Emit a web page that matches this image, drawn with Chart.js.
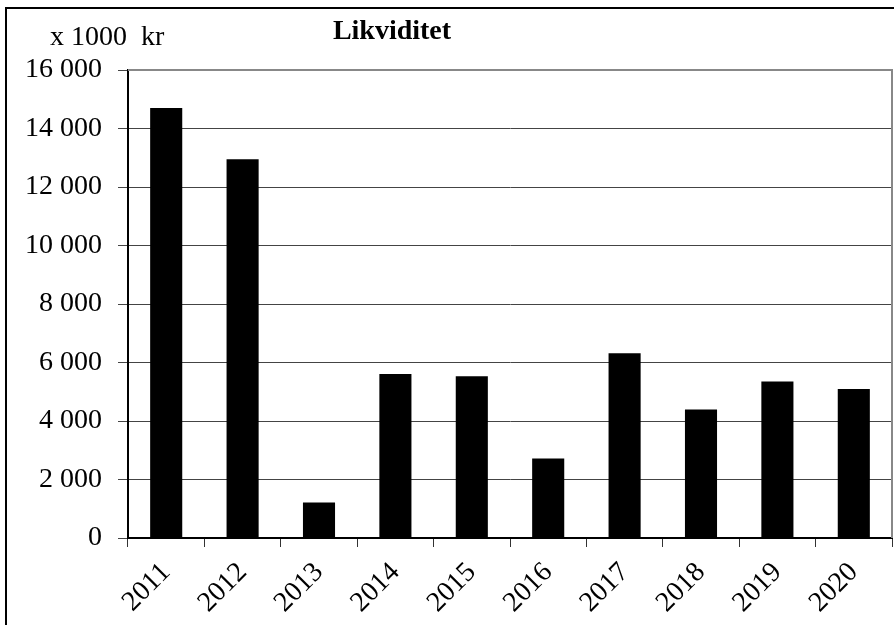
<!DOCTYPE html>
<html>
<head>
<meta charset="utf-8">
<script src="https://cdn.jsdelivr.net/npm/chart.js@4"></script>
<style>
  html, body { margin: 0; padding: 0; background: #fff; }
  #wrap { width: 894px; height: 625px; position: relative; }
</style>
</head>
<body>
<div id="wrap"><canvas id="chart-likviditet" width="894" height="625"></canvas></div>
<script>
const years = ["2011", "2012", "2013", "2014", "2015", "2016", "2017", "2018", "2019", "2020"];
const likviditet = [14700, 12950, 1210, 5610, 5530, 2720, 6320, 4390, 5350, 5090];
const yTicks = [0, 2000, 4000, 6000, 8000, 10000, 12000, 14000, 16000];

const serif = "'Liberation Serif', 'Times New Roman', serif";
const fmt = (v) => String(v).replace(/\B(?=(\d{3})+(?!\d))/g, " ");

// frame, plot border and the two text labels
const decor = {
  id: "decor",
  afterDraw(chart) {
    const { ctx, chartArea: a } = chart;
    ctx.save();
    ctx.strokeStyle = "#000";
    ctx.lineWidth = 2;
    ctx.beginPath();
    ctx.moveTo(6, 625);
    ctx.lineTo(6, 8);
    ctx.lineTo(894, 8);
    ctx.stroke();

    ctx.strokeStyle = "#888";
    ctx.lineWidth = 2;
    ctx.beginPath();
    ctx.moveTo(a.left, a.top);
    ctx.lineTo(a.right, a.top);
    ctx.lineTo(a.right, a.bottom);
    ctx.stroke();

    ctx.fillStyle = "#000";
    ctx.textBaseline = "alphabetic";
    ctx.font = `28px ${serif}`;
    ctx.textAlign = "left";
    ctx.fillText("x 1000  kr", 50, 45);
    ctx.font = `bold 28px ${serif}`;
    ctx.textAlign = "center";
    ctx.fillText("Likviditet", 392, 39);
    ctx.restore();
  },
};

new Chart(document.getElementById("chart-likviditet"), {
  type: "bar",
  data: {
    labels: years,
    datasets: [{
      label: "Likviditet",
      data: likviditet,
      backgroundColor: "#000",
      barPercentage: 0.42,
      categoryPercentage: 1,
    }],
  },
  options: {
    responsive: false,
    animation: false,
    layout: { padding: { left: 0, top: 70, right: 2, bottom: 0 } },
    plugins: { legend: { display: false }, tooltip: { enabled: false } },
    scales: {
      x: {
        grid: { drawOnChartArea: false, drawTicks: true, tickLength: 9, color: "#333", offset: true },
        border: { color: "#000", width: 2 },
        ticks: {
          color: "#000",
          font: { family: serif, size: 28 },
          minRotation: 45,
          maxRotation: 45,
          padding: 9,
        },
        afterFit: (s) => { s.height = 87; },
      },
      y: {
        min: 0,
        max: 16000,
        afterBuildTicks: (s) => { s.ticks = yTicks.map((v) => ({ value: v })); },
        grid: { color: "#444", lineWidth: 1, tickLength: 10 },
        border: { color: "#000", width: 2 },
        ticks: {
          color: "#000",
          font: { family: serif, size: 28 },
          padding: 16,
          callback: (v) => fmt(v),
        },
        afterFit: (s) => { s.width = 128; },
      },
    },
  },
  plugins: [decor],
});
</script>
</body>
</html>
